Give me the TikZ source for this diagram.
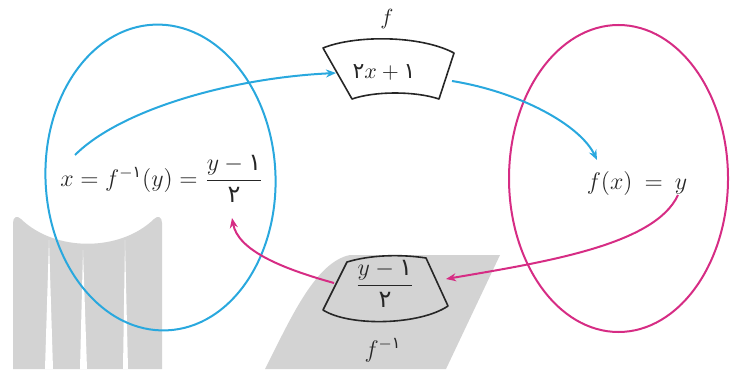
\documentclass[tikz,border=0pt]{standalone}
\usepackage{amsmath}
\usepackage{fontspec}
\newfontfamily\fa{DejaVu Sans}
\usetikzlibrary{arrows.meta,shapes.geometric}
\definecolor{cblue}{RGB}{41,168,222}
\definecolor{cmag}{RGB}{214,44,132}
\definecolor{wmgray}{RGB}{211,211,211}
\newcommand{\fd}[1]{\text{\fa #1}}
\begin{document}
\begin{tikzpicture}[x=0.5pt,y=-0.5pt,
  wm/.style={fill=wmgray},
  slit/.style={fill=white},
  setb/.style={draw=cblue,line width=1pt,ellipse,inner sep=0pt},
  setm/.style={draw=cmag,line width=1pt,ellipse,inner sep=0pt},
  machine/.style={draw=black!85,line width=0.8pt,line join=round},
  barrow/.style={draw=cblue,line width=1pt,-{Stealth[length=5pt,width=4pt]}},
  marrow/.style={draw=cmag,line width=1pt,-{Stealth[length=5pt,width=4pt]}},
  lbl/.style={font=\fontsize{12}{14}\selectfont,inner sep=1pt,text=black!85}]

\useasboundingbox (0,0) rectangle (731,369);

% watermark
\fill[wm] (13,369) -- (13,223) .. controls (13,217) and (17,215) .. (21,219)
  .. controls (55,252) and (120,252) .. (154,219)
  .. controls (158,215) and (162,217) .. (162,223) -- (162,369) -- cycle;
\fill[slit] (49,240) -- (45,369) -- (53,369) -- cycle;
\fill[slit] (83,250) -- (80,369) -- (87,369) -- cycle;
\fill[slit] (125,240) -- (123,369) -- (128,369) -- cycle;
\fill[wm] (265,369) .. controls (290,320) and (315,262) .. (350,255)
  -- (500,255) -- (446,369) -- cycle;

% sets
\node[setb,minimum width=115pt,minimum height=153pt,rotate=2.5] (A) at (160.5,177.5) {};
\node[setm,minimum width=109.5pt,minimum height=153.5pt] (B) at (618.5,178.5) {};

% upper machine f
\coordinate (ftl) at (323,48);
\coordinate (ftr) at (454,53);
\coordinate (fbr) at (439,99);
\coordinate (fbl) at (352,99);
\draw[machine] (ftl) .. controls (355,35) and (420,35) .. (ftr) -- (fbr)
  .. controls (415,91) and (375,91) .. (fbl) -- cycle;
\node[lbl,font=\fontsize{11}{13}\selectfont] (fx) at (384,72) {$\fd{۲}x+\fd{۱}$};
\node[lbl,font=\fontsize{11}{13}\selectfont] (flab) at (387,19) {$f$};

% lower machine f^-1
\coordinate (gtl) at (347,262);
\coordinate (gtr) at (426,258);
\coordinate (gbr) at (448,306);
\coordinate (gbl) at (323,310);
\draw[machine] (gtl) .. controls (370,255) and (400,254) .. (gtr) -- (gbr)
  .. controls (420,325) and (350,327) .. (gbl) -- cycle;
\node[lbl] (finv) at (385,284) {$\dfrac{y-\fd{۱}}{\fd{۲}}$};
\node[lbl] (finvlab) at (383,350) {$f^{-\fd{۱}}$};

% texts in sets
\node[lbl] (xeq) at (162,179) {$x=f^{-\fd{۱}}(y)=\dfrac{y-\fd{۱}}{\fd{۲}}$};
\node[lbl] (fxy) at (637,183) {$f(x)\:=\:y$};

% connectors
\coordinate (a1s) at (75,155);
\coordinate (a1e) at (336,73);
\coordinate (a2s) at (452,81);
\coordinate (a2e) at (597,160);
\coordinate (m1s) at (678,195);
\coordinate (m1e) at (446,279);
\coordinate (m2s) at (334,283);
\coordinate (m2e) at (232,218);
\draw[barrow] (a1s) .. controls (120,110) and (230,78) .. (a1e);
\draw[barrow] (a2s) .. controls (520,92) and (580,125) .. (a2e);
\draw[marrow] (m1s) .. controls (655,245) and (545,262) .. (m1e);
\draw[marrow] (m2s) .. controls (280,268) and (238,250) .. (m2e);
\end{tikzpicture}
\end{document}
